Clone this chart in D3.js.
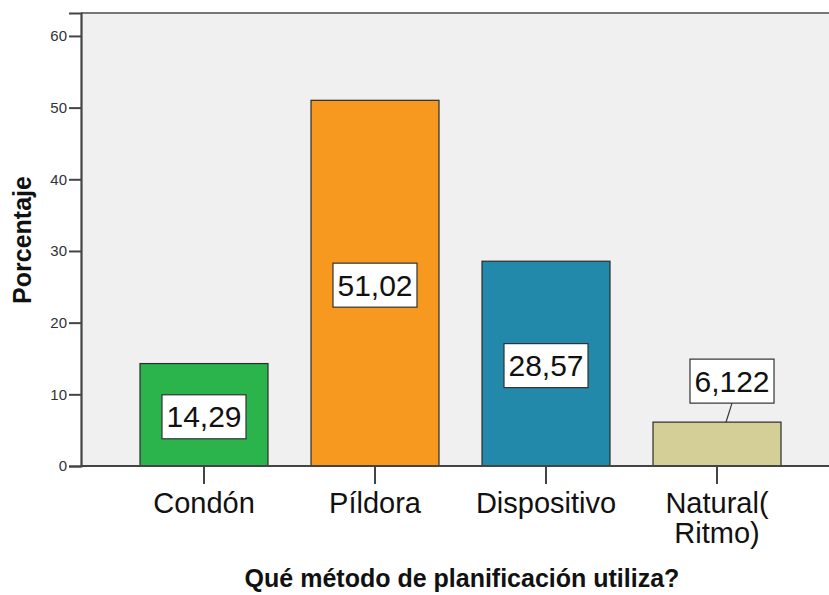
<!DOCTYPE html>
<html>
<head>
<meta charset="utf-8">
<script src="https://cdn.jsdelivr.net/npm/d3@7"></script>
<style>
  html, body { margin: 0; padding: 0; background: #ffffff; }
  svg { display: block; font-family: Arial, "Liberation Sans", sans-serif; }
</style>
</head>
<body>
<svg id="chart" width="829" height="595"></svg>
<script>
// Planning method usage (percent)
const categories = ["Condón", "Píldora", "Dispositivo", "Natural(\nRitmo)"];
const values = [14.29, 51.02, 28.57, 6.122];
const valueLabels = ["14,29", "51,02", "28,57", "6,122"];
const barColors = ["#2bb44b", "#f7981f", "#2389aa", "#d4ce97"];
const yTicks = [0, 10, 20, 30, 40, 50, 60];

const svg = d3.select("#chart");
const margin = { left: 81, top: 13, right: 0, bottom: 129 };
const W = 829, H = 595;
const plotW = W - margin.left - margin.right;
const plotH = H - margin.top - margin.bottom;

const x = d3.scaleBand().domain(categories).range([0, 759])
  .paddingInner(0.2515).paddingOuter(0.345);
const y = d3.scaleLinear().domain([0, 63.2]).range([plotH, 0]);

const g = svg.append("g").attr("transform", `translate(${margin.left},${margin.top})`);

// plot background
g.append("rect").attr("x", 0).attr("y", 0).attr("width", plotW).attr("height", plotH)
  .attr("fill", "#f0f0f0");
g.append("line").attr("x1", 0).attr("x2", plotW).attr("y1", 0).attr("y2", 0)
  .attr("stroke", "#777").attr("stroke-width", 2);

// bars
g.selectAll("rect.bar").data(values).enter().append("rect")
  .attr("class", "bar")
  .attr("x", (d, i) => x(categories[i]))
  .attr("y", d => y(d))
  .attr("width", x.bandwidth())
  .attr("height", d => y(0) - y(d))
  .attr("fill", (d, i) => barColors[i])
  .attr("stroke", "#2b2b2b").attr("stroke-width", 1.2);

// y axis
const yAxis = d3.axisLeft(y).tickValues(yTicks).tickSize(12).tickPadding(2);
const ya = g.append("g").call(yAxis);
ya.select(".domain").attr("stroke", "#444").attr("stroke-width", 2.2);
ya.selectAll(".tick line").attr("stroke", "#444").attr("stroke-width", 2);
ya.selectAll(".tick text").attr("font-size", 15).attr("fill", "#333")
  .attr("font-family", "Arial, 'Liberation Sans', sans-serif");

// x axis
const xAxis = d3.axisBottom(x).tickSize(18).tickFormat("");
const xa = g.append("g").attr("transform", `translate(0,${plotH})`).call(xAxis);
xa.select(".domain").attr("stroke", "#444").attr("stroke-width", 2).attr("d", `M0,0H${plotW}`);
xa.selectAll(".tick line").attr("stroke", "#444").attr("stroke-width", 2);

// category labels, one text element per line
categories.forEach(c => {
  const cx = x(c) + x.bandwidth() / 2;
  c.split("\n").forEach((ln, k) => {
    g.append("text")
      .attr("x", cx)
      .attr("y", plotH + 47 + k * 30)
      .attr("text-anchor", "middle")
      .attr("font-size", 29).attr("fill", "#111")
      .text(ln);
  });
});

// value labels in white boxes
values.forEach((v, i) => {
  const cx = x(categories[i]) + x.bandwidth() / 2;
  const small = y(0) - y(v) < 60;
  const lx = small ? cx + 15 : cx;
  const cy = small ? y(v) - 41 : y(v / 2) + 2;
  const lg = g.append("g");
  lg.append("text")
    .attr("x", lx).attr("y", cy)
    .attr("text-anchor", "middle").attr("dominant-baseline", "central")
    .attr("font-size", 30).attr("fill", "#111")
    .text(valueLabels[i]);
  const bw = 84, bh = 44;
  lg.insert("rect", "text").attr("x", lx - bw / 2).attr("y", cy - bh / 2)
    .attr("width", bw).attr("height", bh)
    .attr("fill", "#fff").attr("stroke", "#333").attr("stroke-width", 1.2);
  if (small) {
    lg.append("line").attr("x1", lx).attr("y1", cy + bh / 2)
      .attr("x2", cx + 9).attr("y2", y(v))
      .attr("stroke", "#333").attr("stroke-width", 1.2);
  }
});

// axis titles
svg.append("text").attr("x", 462).attr("y", 587)
  .attr("text-anchor", "middle").attr("font-size", 25).attr("font-weight", "bold")
  .attr("fill", "#111").text("Qué método de planificación utiliza?");
svg.append("text").attr("transform", "translate(31,240) rotate(-90)")
  .attr("text-anchor", "middle").attr("font-size", 25).attr("font-weight", "bold")
  .attr("fill", "#111").text("Porcentaje");
</script>
</body>
</html>
